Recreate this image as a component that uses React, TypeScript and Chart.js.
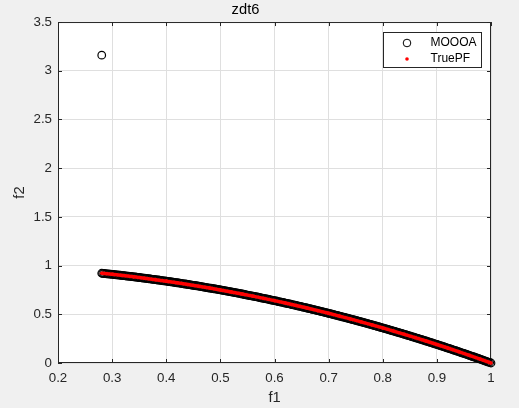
import React, { useEffect, useRef } from "react";
import { Chart, registerables } from "chart.js";

Chart.register(...registerables);

// ---------- data ----------
const chartTitle = "zdt6";
const xLabel = "f1";
const yLabel = "f2";
const xTicks = [0.2, 0.3, 0.4, 0.5, 0.6, 0.7, 0.8, 0.9, 1];
const yTicks = [0, 0.5, 1, 1.5, 2, 2.5, 3, 3.5];
const mooLabel = "MOOOA";
const pfLabel = "TruePF";

// MOOOA solutions (one outlier near f1=0.28, f2=3.16)
const mooF1 = [
  0.2808, 0.2808, 0.285, 0.29, 0.295, 0.3, 0.305, 0.31, 0.315, 0.32, 0.325, 0.33, 0.335, 0.34, 0.345,
  0.35, 0.355, 0.36, 0.365, 0.37, 0.375, 0.38, 0.385, 0.39, 0.395, 0.4, 0.405, 0.41, 0.415,
  0.42, 0.425, 0.43, 0.435, 0.44, 0.445, 0.45, 0.455, 0.46, 0.465, 0.47, 0.475, 0.48, 0.485,
  0.49, 0.495, 0.5, 0.505, 0.51, 0.515, 0.52, 0.525, 0.53, 0.535, 0.54, 0.545, 0.55, 0.555,
  0.56, 0.565, 0.57, 0.575, 0.58, 0.585, 0.59, 0.595, 0.6, 0.605, 0.61, 0.615, 0.62, 0.625,
  0.63, 0.635, 0.64, 0.645, 0.65, 0.655, 0.66, 0.665, 0.67, 0.675, 0.68, 0.685, 0.69, 0.695,
  0.7, 0.705, 0.71, 0.715, 0.72, 0.725, 0.73, 0.735, 0.74, 0.745, 0.75, 0.755, 0.76, 0.765,
  0.77, 0.775, 0.78, 0.785, 0.79, 0.795, 0.8, 0.805, 0.81, 0.815, 0.82, 0.825, 0.83, 0.835,
  0.84, 0.845, 0.85, 0.855, 0.86, 0.865, 0.87, 0.875, 0.88, 0.885, 0.89, 0.895, 0.9, 0.905,
  0.91, 0.915, 0.92, 0.925, 0.93, 0.935, 0.94, 0.945, 0.95, 0.955, 0.96, 0.965, 0.97, 0.975,
  0.98, 0.985, 0.99, 0.995, 1.0,
];
const mooF2 = [
  3.16, 0.9212, 0.9188, 0.9159, 0.913, 0.91, 0.907, 0.9039, 0.9008, 0.8976, 0.8944, 0.8911, 0.8878, 0.8844, 0.881,
  0.8775, 0.874, 0.8704, 0.8668, 0.8631, 0.8594, 0.8556, 0.8518, 0.8479, 0.844, 0.84, 0.836, 0.8319, 0.8278,
  0.8236, 0.8194, 0.8151, 0.8108, 0.8064, 0.802, 0.7975, 0.793, 0.7884, 0.7838, 0.7791, 0.7744, 0.7696, 0.7648,
  0.7599, 0.755, 0.75, 0.745, 0.7399, 0.7348, 0.7296, 0.7244, 0.7191, 0.7138, 0.7084, 0.703, 0.6975, 0.692,
  0.6864, 0.6808, 0.6751, 0.6694, 0.6636, 0.6578, 0.6519, 0.646, 0.64, 0.634, 0.6279, 0.6218, 0.6156, 0.6094,
  0.6031, 0.5968, 0.5904, 0.584, 0.5775, 0.571, 0.5644, 0.5578, 0.5511, 0.5444, 0.5376, 0.5308, 0.5239, 0.517,
  0.51, 0.503, 0.4959, 0.4888, 0.4816, 0.4744, 0.4671, 0.4598, 0.4524, 0.445, 0.4375, 0.43, 0.4224, 0.4148,
  0.4071, 0.3994, 0.3916, 0.3838, 0.3759, 0.368, 0.36, 0.352, 0.3439, 0.3358, 0.3276, 0.3194, 0.3111, 0.3028,
  0.2944, 0.286, 0.2775, 0.269, 0.2604, 0.2518, 0.2431, 0.2344, 0.2256, 0.2168, 0.2079, 0.199, 0.19, 0.181,
  0.1719, 0.1628, 0.1536, 0.1444, 0.1351, 0.1258, 0.1164, 0.107, 0.0975, 0.088, 0.0784, 0.0688, 0.0591, 0.0494,
  0.0396, 0.0298, 0.0199, 0.01, 0,
];
// further MOOOA solutions lying between the ones above (the band is very dense)
const mooF1b = [
  0.2825, 0.2875, 0.2925, 0.2975, 0.3025, 0.3075, 0.3125, 0.3175, 0.3225, 0.3275,
  0.3325, 0.3375, 0.3425, 0.3475, 0.3525, 0.3575, 0.3625, 0.3675, 0.3725, 0.3775,
  0.3825, 0.3875, 0.3925, 0.3975, 0.4025, 0.4075, 0.4125, 0.4175, 0.4225, 0.4275,
  0.4325, 0.4375, 0.4425, 0.4475, 0.4525, 0.4575, 0.4625, 0.4675, 0.4725, 0.4775,
  0.4825, 0.4875, 0.4925, 0.4975, 0.5025, 0.5075, 0.5125, 0.5175, 0.5225, 0.5275,
  0.5325, 0.5375, 0.5425, 0.5475, 0.5525, 0.5575, 0.5625, 0.5675, 0.5725, 0.5775,
  0.5825, 0.5875, 0.5925, 0.5975, 0.6025, 0.6075, 0.6125, 0.6175, 0.6225, 0.6275,
  0.6325, 0.6375, 0.6425, 0.6475, 0.6525, 0.6575, 0.6625, 0.6675, 0.6725, 0.6775,
  0.6825, 0.6875, 0.6925, 0.6975, 0.7025, 0.7075, 0.7125, 0.7175, 0.7225, 0.7275,
  0.7325, 0.7375, 0.7425, 0.7475, 0.7525, 0.7575, 0.7625, 0.7675, 0.7725, 0.7775,
  0.7825, 0.7875, 0.7925, 0.7975, 0.8025, 0.8075, 0.8125, 0.8175, 0.8225, 0.8275,
  0.8325, 0.8375, 0.8425, 0.8475, 0.8525, 0.8575, 0.8625, 0.8675, 0.8725, 0.8775,
  0.8825, 0.8875, 0.8925, 0.8975, 0.9025, 0.9075, 0.9125, 0.9175, 0.9225, 0.9275,
  0.9325, 0.9375, 0.9425, 0.9475, 0.9525, 0.9575, 0.9625, 0.9675, 0.9725, 0.9775,
  0.9825, 0.9875, 0.9925, 0.9975,
];
const mooF2b = [
  0.9202, 0.9173, 0.9144, 0.9115, 0.9085, 0.9055, 0.9023, 0.8992, 0.896, 0.8927,
  0.8895, 0.8861, 0.8827, 0.8793, 0.8758, 0.8722, 0.8686, 0.865, 0.8613, 0.8575,
  0.8537, 0.8499, 0.846, 0.842, 0.838, 0.834, 0.8299, 0.8257, 0.8215, 0.8173,
  0.813, 0.8086, 0.8042, 0.7998, 0.7953, 0.7907, 0.7861, 0.7815, 0.7768, 0.772,
  0.7672, 0.7624, 0.7575, 0.7525, 0.7475, 0.7425, 0.7374, 0.7322, 0.727, 0.7218,
  0.7165, 0.7111, 0.7057, 0.7003, 0.6948, 0.6892, 0.6836, 0.678, 0.6723, 0.6665,
  0.6607, 0.6549, 0.649, 0.643, 0.637, 0.631, 0.6249, 0.6187, 0.6125, 0.6063,
  0.6, 0.5936, 0.5872, 0.5808, 0.5743, 0.5677, 0.5611, 0.5545, 0.5478, 0.541,
  0.5342, 0.5274, 0.5205, 0.5135, 0.5065, 0.4995, 0.4924, 0.4852, 0.478, 0.4708,
  0.4635, 0.4561, 0.4487, 0.4413, 0.4338, 0.4262, 0.4186, 0.411, 0.4033, 0.3955,
  0.3877, 0.3799, 0.372, 0.364, 0.356, 0.348, 0.3399, 0.3317, 0.3235, 0.3153,
  0.307, 0.2986, 0.2902, 0.2818, 0.2733, 0.2647, 0.2561, 0.2475, 0.2388, 0.23,
  0.2212, 0.2124, 0.2035, 0.1945, 0.1855, 0.1765, 0.1674, 0.1582, 0.149, 0.1398,
  0.1305, 0.1211, 0.1117, 0.1023, 0.0928, 0.0832, 0.0736, 0.064, 0.0543, 0.0445,
  0.0347, 0.0249, 0.015, 0.005,
];

// True Pareto front samples
const pfF1 = [
  0.2808, 0.3, 0.32, 0.34, 0.36, 0.38, 0.4, 0.42, 0.44, 0.46, 0.48, 0.5, 0.52, 0.54, 0.56, 0.58,
  0.6, 0.62, 0.64, 0.66, 0.68, 0.7, 0.72, 0.74, 0.76, 0.78, 0.8, 0.82, 0.84, 0.86, 0.88, 0.9,
  0.92, 0.94, 0.96, 0.98, 1.0,
];
const pfF2 = [
  0.9212, 0.91, 0.8976, 0.8844, 0.8704, 0.8556, 0.84, 0.8236, 0.8064, 0.7884, 0.7696, 0.75, 0.7296,
  0.7084, 0.6864, 0.6636, 0.64, 0.6156, 0.5904, 0.5644, 0.5376, 0.51, 0.4816, 0.4524, 0.4224, 0.3916,
  0.36, 0.3276, 0.2944, 0.2604, 0.2256, 0.19, 0.1536, 0.1164, 0.0784, 0.0396, 0,
];

// ---------- styling ----------
const FONT = "'Liberation Sans', Arial, Helvetica, sans-serif";
const AXIS_COLOR = "#262626";
const GRID_COLOR = "#dfdfdf";

const matlabAxes = {
  id: "matlabAxes",
  beforeDraw(chart: any) {
    const { ctx, chartArea: a } = chart;
    ctx.save();
    ctx.fillStyle = "#ffffff";
    ctx.fillRect(a.left, a.top, a.right - a.left, a.bottom - a.top);
    ctx.restore();
  },
  beforeDatasetsDraw(chart: any) {
    const { ctx, chartArea: a, scales } = chart;
    const tl = 4;
    ctx.save();
    ctx.strokeStyle = AXIS_COLOR;
    ctx.lineWidth = 1;
    ctx.beginPath();
    ctx.rect(a.left + 0.5, a.top + 0.5, a.right - a.left - 1, a.bottom - a.top - 1);
    scales.x.ticks.forEach((t: any) => {
      const px = Math.round(scales.x.getPixelForValue(t.value)) + 0.5;
      ctx.moveTo(px, a.bottom);
      ctx.lineTo(px, a.bottom - tl);
      ctx.moveTo(px, a.top);
      ctx.lineTo(px, a.top + tl);
    });
    scales.y.ticks.forEach((t: any) => {
      const py = Math.round(scales.y.getPixelForValue(t.value)) + 0.5;
      ctx.moveTo(a.left, py);
      ctx.lineTo(a.left + tl, py);
      ctx.moveTo(a.right, py);
      ctx.lineTo(a.right - tl, py);
    });
    ctx.stroke();
    ctx.restore();
  },
  afterDraw(chart: any) {
    const { ctx, chartArea: a } = chart;
    const ds = chart.data.datasets;
    const bw = 98;
    const bh = 35;
    const bx = Math.round(a.right - 10 - bw) + 0.5;
    const by = Math.round(a.top + 10) + 0.5;
    ctx.save();
    ctx.fillStyle = "#ffffff";
    ctx.fillRect(bx, by, bw, bh);
    ctx.strokeStyle = AXIS_COLOR;
    ctx.lineWidth = 1;
    ctx.strokeRect(bx, by, bw, bh);
    const mx = bx + 23.5;
    const tx = bx + 47;
    const y1 = by + 10.5;
    const y2 = by + 26.5;
    ctx.beginPath();
    ctx.arc(mx, y1, 3.8, 0, Math.PI * 2);
    ctx.strokeStyle = "#000000";
    ctx.stroke();
    ctx.beginPath();
    ctx.arc(mx, y2, 1.8, 0, Math.PI * 2);
    ctx.fillStyle = "#ff0000";
    ctx.fill();
    ctx.fillStyle = "#000000";
    ctx.font = `12px ${FONT}`;
    ctx.textBaseline = "middle";
    ctx.textAlign = "left";
    ctx.fillText(ds[0].label, tx, y1);
    ctx.fillText(ds[1].label, tx, y2);
    ctx.restore();
  },
};

export default function App() {
  const ref = useRef<HTMLCanvasElement | null>(null);

  useEffect(() => {
    if (!ref.current) return;
    const mooPts = mooF1
      .map((x, i) => ({ x, y: mooF2[i] }))
      .concat(mooF1b.map((x, i) => ({ x, y: mooF2b[i] })));
    const chart = new Chart(ref.current, {
      type: "scatter",
      data: {
        datasets: [
          {
            label: mooLabel,
            data: mooPts,
            pointStyle: "circle",
            pointRadius: 3.8,
            pointBorderWidth: 1.2,
            pointBackgroundColor: "rgba(0,0,0,0)",
            pointBorderColor: "#000000",
            borderColor: "#000000",
            showLine: false,
            clip: false,
            order: 1,
          } as any,
          {
            label: pfLabel,
            data: pfF1.map((x, i) => ({ x, y: pfF2[i] })),
            pointStyle: "circle",
            pointRadius: 1.8,
            pointBorderWidth: 0,
            pointBackgroundColor: "#ff0000",
            pointBorderColor: "#ff0000",
            borderColor: "#ff0000",
            borderWidth: 3.5,
            showLine: true,
            tension: 0,
            clip: false,
            order: 0,
          } as any,
        ],
      },
      options: {
        responsive: false,
        animation: false,
        devicePixelRatio: 1,
        events: [],
        layout: { padding: { left: 0, right: 28, top: 0, bottom: 0 } },
        plugins: {
          legend: { display: false },
          tooltip: { enabled: false },
          title: {
            display: true,
            text: chartTitle,
            color: "#000000",
            font: { family: FONT, size: 14.7, weight: "normal" },
            padding: { top: 1.2, bottom: 3.2 },
          },
        },
        scales: {
          x: {
            type: "linear",
            min: 0.2,
            max: 1,
            afterBuildTicks: (s: any) => {
              s.ticks = xTicks.map((v) => ({ value: v }));
            },
            afterFit: (s: any) => {
              s.height = 45;
            },
            grid: { color: GRID_COLOR, drawTicks: false, lineWidth: 1 },
            border: { display: false },
            ticks: {
              color: AXIS_COLOR,
              font: { family: FONT, size: 13.3 },
              padding: 7,
              maxRotation: 0,
              autoSkip: false,
              callback: (v: any) => String(v),
            },
            title: {
              display: true,
              text: xLabel,
              color: AXIS_COLOR,
              font: { family: FONT, size: 14.7 },
              padding: { top: 0, bottom: 1.2 },
            },
          },
          y: {
            type: "linear",
            min: 0,
            max: 3.5,
            afterBuildTicks: (s: any) => {
              s.ticks = yTicks.map((v) => ({ value: v }));
            },
            afterFit: (s: any) => {
              s.width = 58;
            },
            grid: { color: GRID_COLOR, drawTicks: false, lineWidth: 1 },
            border: { display: false },
            ticks: {
              color: AXIS_COLOR,
              font: { family: FONT, size: 13.3 },
              padding: 6,
              autoSkip: false,
              callback: (v: any) => String(v),
            },
            title: {
              display: true,
              text: yLabel,
              color: AXIS_COLOR,
              font: { family: FONT, size: 14.7 },
              padding: { top: 11, bottom: 0 },
            },
          },
        },
      } as any,
      plugins: [matlabAxes as any],
    });
    return () => chart.destroy();
  }, []);

  return (
    <div
      style={{
        position: "fixed",
        left: 0,
        top: 0,
        width: 519,
        height: 408,
        background: "#f0f0f0",
      }}
    >
      <canvas ref={ref} width={519} height={408} style={{ display: "block" }} />
    </div>
  );
}
